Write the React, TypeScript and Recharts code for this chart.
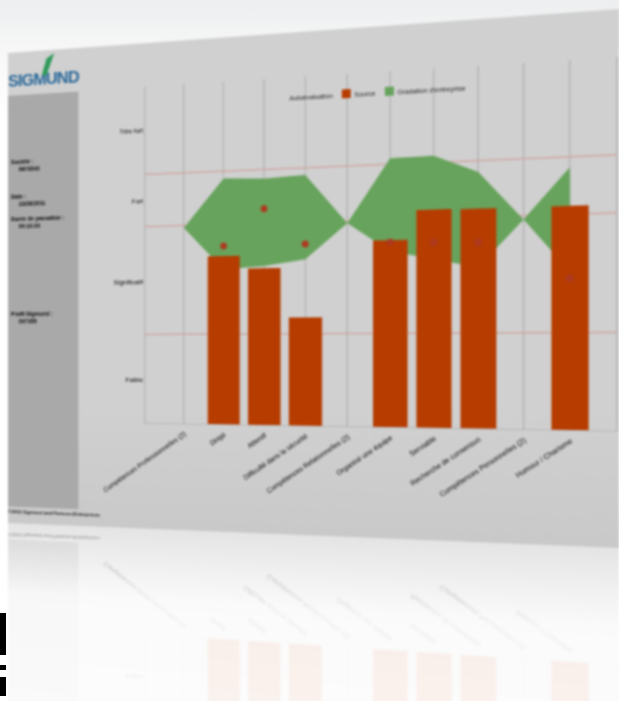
import { ComposedChart, Area, Bar, Line, XAxis, YAxis, CartesianGrid, Legend } from 'recharts';

const categories = ['', 'Compétences Professionnelles (2)', 'Dirigé', 'Attentif', 'Difficulté dans la sécurité', 'Compétences Relationnelles (2)', 'Organisé une équipe', 'Serviable', 'Recherche de consensus', 'Compétences Personnelles (2)', 'Humour / Charisme', ' '];
const scores = [null, null, 49.2, 45.4, 31.1, null, 52.6, 60.8, 60.7, null, 60.7, null];
const selfRating = [null, null, 52.1, 62.6, 52.1, null, 52, 51.7, 51.4, null, 41.1, null];
const bandLow = [null, 57.7, 45.3, 46, 47.7, 57.7, 49.5, 47, 44.5, 57.3, 43, null];
const bandHigh = [null, 57.7, 71.8, 71.3, 71.9, 57.7, 75.6, 75.8, 70.8, 57.3, 71.1, null];
const levelTicks = [13, 42, 66, 87];
const levelNames = ['Faible', 'Significatif', 'Fort', 'Très fort'];
const thresholds = [26.4, 58.4, 73.9];
const legendOrder = ['Autoévaluation', 'Source', "Gradation d'entreprise"];

const sideInfo = [
  { top: 128, label: 'Société :', value: '9876543' },
  { top: 170, label: 'Date :', value: '23/08/2011' },
  { top: 197, label: 'Durée de passation :', value: '00:10:00' },
  { top: 312, label: 'Profil Sigmund :', value: '007355' },
];

const rows = categories.map((name, i) => ({
  name,
  score: scores[i],
  self: selfRating[i],
  band: bandLow[i] == null ? null : [bandLow[i], bandHigh[i]],
}));

const W = 700;
const H = 570;

// square to quad, so the flat page can be put on the tilted sheet
function quadMatrix(p: number[][]) {
  const [[x0, y0], [x1, y1], [x2, y2], [x3, y3]] = p;
  const dx1 = x1 - x2, dx2 = x3 - x2, sx = x0 - x1 + x2 - x3;
  const dy1 = y1 - y2, dy2 = y3 - y2, sy = y0 - y1 + y2 - y3;
  const den = dx1 * dy2 - dx2 * dy1;
  const g = (sx * dy2 - dx2 * sy) / den;
  const h = (dx1 * sy - sx * dy1) / den;
  const a = x1 - x0 + g * x1, b = x3 - x0 + h * x3;
  const d = y1 - y0 + g * y1, e = y3 - y0 + h * y3;
  return `matrix3d(${a / W},${d / W},0,${g / W},${b / H},${e / H},0,${h / H},0,0,1,0,${x0},${y0},0,1)`;
}

const sheet = quadMatrix([[8, 53], [619, 9], [619, 548], [8, 523]]);

export default function App() {
  return (
    <div style={{ position: 'fixed', left: 0, top: 0, width: 619, height: 701, overflow: 'hidden', background: 'linear-gradient(#eceeef, #f7f7f7 50px, #ffffff 120px)', fontFamily: 'Liberation Sans, sans-serif' }}>
      <div style={{ position: 'absolute', inset: 0, filter: 'blur(0.8px)' }}>
        <div style={{
          position: 'absolute', left: 0, top: 0, width: W, height: H, transformOrigin: '0 0', transform: sheet,
          background: 'linear-gradient(#d0d0d0, #d0d0d0 75%, #c9c9c9)',
          WebkitBoxReflect: 'below 0 linear-gradient(transparent, rgba(255,255,255,0.06) 60%, rgba(255,255,255,0.09) 85%, rgba(255,255,255,0.5))',
        } as React.CSSProperties}>
          <div style={{ position: 'absolute', left: 0, top: 21, width: 96, fontSize: 21, lineHeight: '26px', letterSpacing: -1.1, color: '#2c6a9a', fontWeight: 700, whiteSpace: 'nowrap' }}>SIGMUND</div>
          <svg width={20} height={26} style={{ position: 'absolute', left: 42, top: 4 }}>
            <polygon points="2,26 8,6 18,0 12,16 8,26" fill="#2f9a5a" />
          </svg>
          <div style={{ position: 'absolute', left: 0, top: 52, width: 91, height: 498, background: '#a9a9a9' }} />
          {sideInfo.map(d => (
            <div key={d.label} style={{ position: 'absolute', left: 4, top: d.top, fontSize: 7, lineHeight: '9px', color: '#000', fontWeight: 700, whiteSpace: 'nowrap' }}>
              <div>{d.label}</div>
              <div style={{ paddingLeft: 10 }}>{d.value}</div>
            </div>
          ))}
          <div style={{ position: 'absolute', left: 0, top: 553, fontSize: 6, fontWeight: 700, color: '#222', whiteSpace: 'nowrap' }}>©2016 Sigmund and Partners/Entreprises</div>
          <div style={{ position: 'absolute', left: 0, top: 0 }}>
            <ComposedChart width={W} height={H} data={rows} margin={{ top: 51, right: 2, bottom: 0, left: 114 }}>
              <CartesianGrid horizontal={false} stroke="#b4b4b4" strokeWidth={1.6} />
              <CartesianGrid vertical={false} horizontalValues={thresholds} stroke="#cda49f" strokeWidth={1.4} />
              <XAxis dataKey="name" scale="point" interval={0} height={93} angle={-35} textAnchor="end" tickLine={false} axisLine={{ stroke: '#b4b4b4' }} tick={{ fontSize: 8, fill: '#000' }} />
              <YAxis width={60} domain={[0, 100]} ticks={levelTicks} tickFormatter={v => levelNames[levelTicks.indexOf(v)]} tickLine={false} tickSize={0} tickMargin={2} axisLine={false} tick={{ fontSize: 8, fill: '#000' }} />
              <Legend
                itemSorter={(item: { value?: string }) => legendOrder.indexOf(item.value ?? '')}
                iconSize={10}
                formatter={v => <span style={{ color: '#222', fontSize: 7.5 }}>{v}</span>}
                wrapperStyle={{ left: 304, top: 63, width: 276, bottom: 'auto' }}
              />
              <Area dataKey="band" name={legendOrder[2]} type="linear" fill="#67a35c" fillOpacity={1} stroke="none" legendType="square" isAnimationActive={false} />
              <Bar dataKey="score" name={legendOrder[1]} fill="#b63c00" barSize={38} legendType="square" isAnimationActive={false} />
              <Line dataKey="self" name={legendOrder[0]} stroke="none" dot={{ r: 4, fill: '#ad3a20', stroke: 'none' }} isAnimationActive={false} />
            </ComposedChart>
          </div>
        </div>
      </div>
      <div style={{ position: 'absolute', left: 0, top: 613, width: 6, height: 42, background: '#000' }} />
      <div style={{ position: 'absolute', left: 0, top: 665, width: 6, height: 5, background: '#000' }} />
      <div style={{ position: 'absolute', left: 0, top: 677, width: 6, height: 19, background: '#000' }} />
    </div>
  );
}
